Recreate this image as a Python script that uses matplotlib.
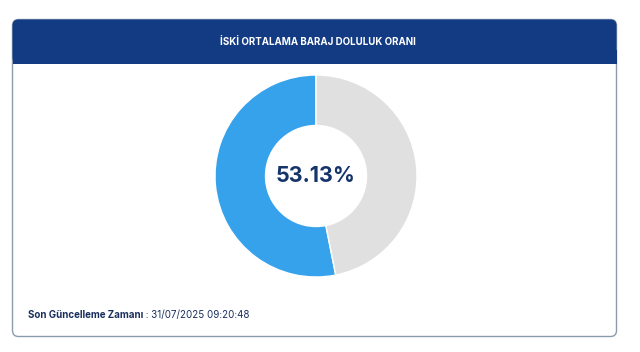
import matplotlib
matplotlib.use("Agg")
import matplotlib.pyplot as plt
from matplotlib.patches import FancyBboxPatch, Rectangle

title = "İSKİ ORTALAMA BARAJ DOLULUK ORANI"
labels = ["Dolu", "Boş"]
values = [53.13, 46.87]
colors = ["#36A2EB", "#E0E0E0"]
update_label = "Son Güncelleme Zamanı"
update_time = " : 31/07/2025 09:20:48"

FONT = "Inter"
W, H = 640, 352
fig = plt.figure(figsize=(W / 100, H / 100), dpi=100)
fig.patch.set_facecolor("white")

bg = fig.add_axes([0, 0, 1, 1])
bg.set_xlim(0, W)
bg.set_ylim(H, 0)
bg.axis("off")

# card
card = FancyBboxPatch((12.5, 19.5), 604, 317, boxstyle="round,pad=0,rounding_size=6",
                      facecolor="white", edgecolor="#8C9AAE", linewidth=1.0)
bg.add_patch(card)
header = FancyBboxPatch((12.5, 19.5), 604, 44, boxstyle="round,pad=0,rounding_size=6",
                        facecolor="#123B83", edgecolor="none")
bg.add_patch(header)
bg.add_patch(Rectangle((12.5, 50), 604, 13.5, facecolor="#123B83", edgecolor="none"))
bg.text(318, 41.5, title, color="white", fontsize=7, fontweight="bold",
        ha="center", va="center", family=FONT)

t1 = bg.text(28, 315, update_label, color="#1A2F5E", fontsize=7, fontweight="bold",
             ha="left", va="center", family=FONT)
fig.canvas.draw()
ext = t1.get_window_extent()
x_end = ext.x1
bg.text(x_end, 315, update_time, color="#1A2F5E", fontsize=7,
        ha="left", va="center", family=FONT)

# donut
cx, cy, r = 316, 176, 101
ax = fig.add_axes([(cx - r) / W, (H - cy - r) / H, 2 * r / W, 2 * r / H])
ax.pie(values, colors=colors, startangle=90, counterclock=True, radius=1,
       wedgeprops=dict(width=0.5, edgecolor="white", linewidth=1))
ax.set_xlim(-1, 1)
ax.set_ylim(-1, 1)
ax.set_aspect("equal")
ax.axis("off")
ax.text(0, 0, f"{values[0]:.2f}%", color="#15346B", fontsize=15.5, fontweight="bold",
        ha="center", va="center", family=FONT)

fig.savefig("out.png", dpi=100, facecolor="white")
